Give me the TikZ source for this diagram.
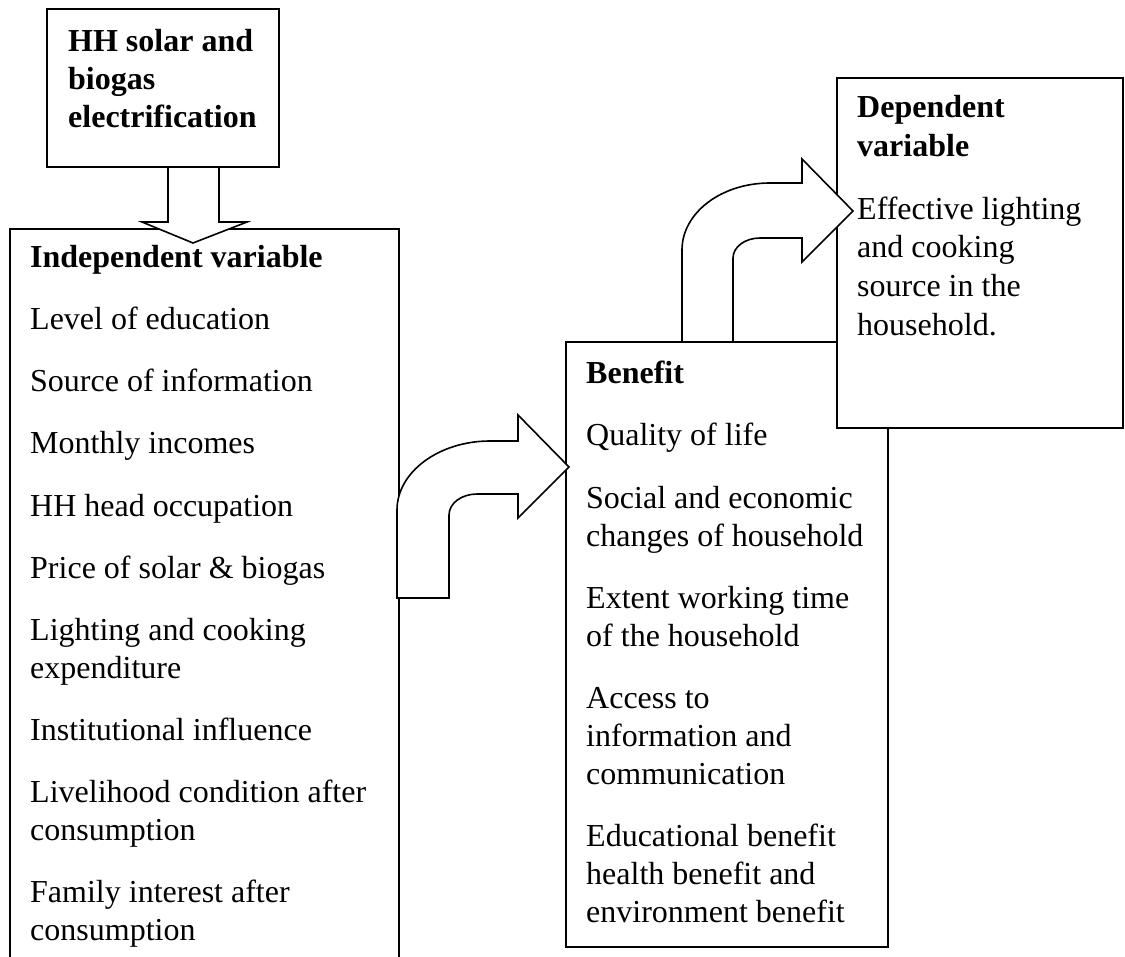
\documentclass[tikz,border=0pt]{standalone}
\usepackage{fontspec}
\setmainfont{Liberation Serif}
\begin{document}
\begin{tikzpicture}[x=1pt,y=-1pt,
  box/.style={draw=black, line width=2.2pt, fill=white},
  blk/.style={draw=black, line width=1.6pt, fill=white, line join=miter},
  t/.style={anchor=base west, inner sep=0pt, font=\fontsize{32}{38}\selectfont},
  tb/.style={anchor=base west, inner sep=0pt, font=\fontsize{32}{38}\selectfont\bfseries}]
\useasboundingbox (0,0) rectangle (1125,957);

% boxes
\draw[line width=2.2pt] (10,957) -- (10,229) -- (399,229) -- (399,957);
\draw[box] (566,342) rectangle (888,947);
\draw[box] (837,78) rectangle (1123,428);
\draw[box] (47,9) rectangle (279,167);

% down arrow
\draw[blk] (168,167) -- (168,222) -- (142,222) -- (193,243) -- (247,222) -- (219,222) -- (219,167) -- cycle;

% bent arrow 1
\draw[blk] (397,598) -- (397,510) .. controls (397,472) and (439,441) .. (490,441) -- (518,441) -- (518,415) -- (569,467) -- (518,518) -- (518,494) -- (477,494) .. controls (462,494) and (449,503) .. (449,515) -- (449,598) -- cycle;

% bent arrow 2
\draw[blk] (682,342) -- (682,250) .. controls (682,213) and (721,183) .. (770,183) -- (802,183) -- (802,159) -- (853,211) -- (802,262) -- (802,238) -- (760,238) .. controls (745,238) and (733,247) .. (733,258) -- (733,342) -- cycle;

% top box text
\node[tb] (h1) at (68,52) {HH solar and};
\node[tb] (h2) at (68,90) {biogas};
\node[tb] (h3) at (68,128) {electrification};

% independent
\node[tb] (i0) at (30,268) {Independent variable};
\node[t] (i1) at (30,330) {Level of education};
\node[t] (i2) at (30,392) {Source of information};
\node[t] (i3) at (30,454) {Monthly incomes};
\node[t] (i4) at (30,516) {HH head occupation};
\node[t] (i5) at (30,578) {Price of solar \& biogas};
\node[t] (i6) at (30,640) {Lighting and cooking};
\node[t] (i6b) at (30,678) {expenditure};
\node[t] (i7) at (30,740) {Institutional influence};
\node[t] (i8) at (30,802) {Livelihood condition after};
\node[t] (i8b) at (30,840) {consumption};
\node[t] (i9) at (30,902) {Family interest after};
\node[t] (i9b) at (30,940) {consumption};

% benefit
\node[tb] (b0) at (586,384) {Benefit};
\node[t] (b1) at (586,446) {Quality of life};
\node[t] (b2) at (586,508) {Social and economic};
\node[t] (b2b) at (586,546) {changes of household};
\node[t] (b3) at (586,608) {Extent working time};
\node[t] (b3b) at (586,646) {of the household};
\node[t] (b4) at (586,708) {Access to};
\node[t] (b4b) at (586,746) {information and};
\node[t] (b4c) at (586,784) {communication};
\node[t] (b5) at (586,846) {Educational benefit};
\node[t] (b5b) at (586,884) {health benefit and};
\node[t] (b5c) at (586,922) {environment benefit};

% dependent
\node[tb] (d0) at (857,118) {Dependent};
\node[tb] (d0b) at (857,157) {variable};
\node[t] (d1) at (857,220) {Effective lighting};
\node[t] (d2) at (857,258) {and cooking};
\node[t] (d3) at (857,297) {source in the};
\node[t] (d4) at (857,336) {household.};
\end{tikzpicture}
\end{document}
